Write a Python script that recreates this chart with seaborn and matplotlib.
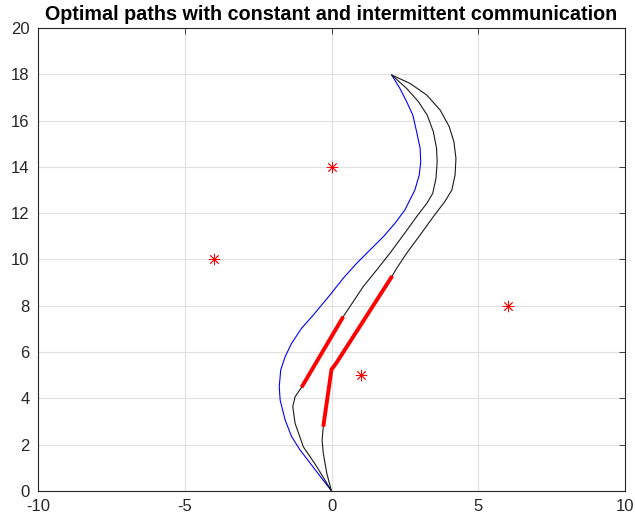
import matplotlib
matplotlib.use("Agg")
import matplotlib.pyplot as plt
import seaborn as sns

sns.set_theme(style="white")
plt.rcParams['font.family'] = ['Liberation Sans', 'DejaVu Sans']
plt.rcParams['axes.unicode_minus'] = False

# Path with constant communication
const_x = [0, -1.07, -1.36, -1.58, -1.75, -1.78, -1.73, -1.58, -1.36, -1.02, -0.62,
           -0.05, 0.40, 0.86, 1.31, 1.77, 2.16, 2.50, 2.67, 2.84, 2.99, 3.04,
           3.02, 2.90, 2.77, 2.56, 2.33, 2.05]
const_y = [0, 1.77, 2.35, 3.07, 3.93, 4.51, 5.23, 5.80, 6.38, 7.03, 7.60,
           8.47, 9.19, 9.84, 10.41, 10.99, 11.56, 12.14, 12.57, 13.00, 13.65, 14.22,
           14.80, 15.52, 16.24, 16.82, 17.39, 17.97]

# Paths with intermittent communication
inter1_x = [0, -0.50, -0.96, -1.24, -1.32, -1.24, -1.02, 0.40, 1.08, 1.54, 1.99,
            2.45, 2.90, 3.26, 3.45, 3.56, 3.60, 3.58, 3.47, 3.26, 2.96, 2.56, 2.05]
inter1_y = [0, 1.05, 1.91, 2.92, 3.64, 4.07, 4.48, 7.53, 8.83, 9.55, 10.27,
            11.06, 11.85, 12.45, 12.86, 13.51, 14.22, 14.80, 15.52, 16.24, 16.82,
            17.39, 17.97]

inter2_x = [0, -0.16, -0.28, -0.32, -0.28, 0.0, 0.15, 2.07, 2.22, 2.56, 3.02,
            3.47, 3.86, 4.10, 4.21, 4.24, 4.17, 4.01, 3.70, 3.24, 2.67, 2.05]
inter2_y = [0, 0.76, 1.63, 2.20, 2.78, 5.25, 5.50, 9.29, 9.62, 10.27, 11.06,
            11.85, 12.50, 13.00, 13.65, 14.37, 15.09, 15.74, 16.46, 17.11, 17.61,
            17.97]

# Communication intervals along the intermittent paths
link1_x = [-1.02, 0.40]
link1_y = [4.48, 7.53]
link2_x = [-0.28, 0.0, 0.15, 2.07]
link2_y = [2.78, 5.25, 5.50, 9.29]

# Targets
target_x = [-4, 0, 6, 1]
target_y = [10, 14, 8, 5]

fig = plt.figure(figsize=(6.35, 5.21), dpi=100)
ax = fig.add_axes([38 / 635, 30 / 521, 587 / 635, 463 / 521])

line_kw = dict(sort=False, estimator=None, ax=ax, legend=False)
sns.lineplot(x=const_x, y=const_y, color="#0000ff", linewidth=0.8, **line_kw)
sns.lineplot(x=inter1_x, y=inter1_y, color="#1a1a1a", linewidth=0.8, **line_kw)
sns.lineplot(x=inter2_x, y=inter2_y, color="#1a1a1a", linewidth=0.8, **line_kw)
sns.lineplot(x=link1_x, y=link1_y, color="#ff0000", linewidth=2.8,
             solid_capstyle="butt", **line_kw)
sns.lineplot(x=link2_x, y=link2_y, color="#ff0000", linewidth=2.8,
             solid_capstyle="butt", **line_kw)
sns.scatterplot(x=target_x, y=target_y, marker=(8, 2, 0), color="#ff0000",
                s=60, linewidth=0.6, ax=ax, legend=False, zorder=5)

ax.set_xlim(-10, 10)
ax.set_ylim(0, 20)
ax.set_xticks(range(-10, 11, 5))
ax.set_yticks(range(0, 21, 2))
ax.grid(True, color="#e0e0e0", linewidth=0.8)
ax.set_axisbelow(True)
for sp in ax.spines.values():
    sp.set_color("#262626")
    sp.set_linewidth(0.8)
ax.tick_params(direction="in", length=4, width=0.6, color="#262626",
               labelsize=12, labelcolor="#262626", top=True, right=True,
               labeltop=False, labelright=False, pad=6)
ax.set_title("Optimal paths with constant and intermittent communication",
             fontsize=14.2, fontweight="bold", color="black", pad=6)

fig.savefig("out.png", dpi=100)
